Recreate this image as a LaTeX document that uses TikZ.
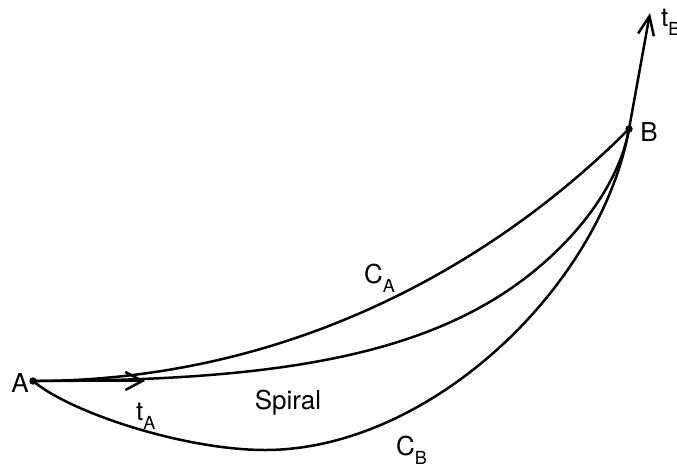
\documentclass[tikz,border=0pt]{standalone}
\usepackage{fontspec}
\setmainfont{TeX Gyre Heros}
\usetikzlibrary{arrows.meta}
\newcommand{\mysub}[1]{\raisebox{-9pt}{\fontsize{18}{20}\selectfont #1}}
\begin{document}
\begin{tikzpicture}[x=1pt,y=-1pt,
  curve/.style={line width=2.5pt},
  lbl/.style={font=\fontsize{26}{30}\selectfont, inner sep=0pt},
  vec/.style={line width=2.5pt}]
\useasboundingbox (0,0) rectangle (677,469);
\coordinate (A) at (33,381);
\coordinate (B) at (629,129);
\coordinate (tA) at (145,381);
\coordinate (tB) at (650,13);
\coordinate (P) at (547,260);
\coordinate (Q) at (265,450);
% C_A
\draw[curve] (A) .. controls +(250,0) and +(-141,141) .. (B);
% Spiral
\draw[curve] (A) .. controls +(250,0) and +(-105.5,95) .. (P)
                 .. controls +(44.6,-40.1) and +(-8,44.3) .. (B);
% C_B
\draw[curve] (A) .. controls +(38,32) and +(-80,0) .. (Q)
                 .. controls +(165,0) and +(-28.3,157.4) .. (B);
% tangents
\draw[vec, -{Straight Barb[length=17pt,width=18pt,line width=2.5pt]}] (A) -- (tA);
\draw[vec, -{Straight Barb[length=19pt,width=16pt,line width=2.5pt]}] (B) -- (tB);
\fill (A) circle (3.7);
\fill (B) circle (3.7);
% labels
\node[lbl] (lA) at (20,383) {A};
\node[lbl] (lB) at (649,132) {B};
\node[lbl, anchor=base west] (ltB) at (661,26) {t\mysub{B}};
\node[lbl, anchor=base west] (ltA) at (136,420) {t\mysub{A}};
\node[lbl, anchor=base west] (lCA) at (364,283) {C\mysub{A}};
\node[lbl, anchor=base west] (lCB) at (396,455) {C\mysub{B}};
\node[lbl, anchor=base] (lS) at (288,409) {Spiral};
\end{tikzpicture}
\end{document}
